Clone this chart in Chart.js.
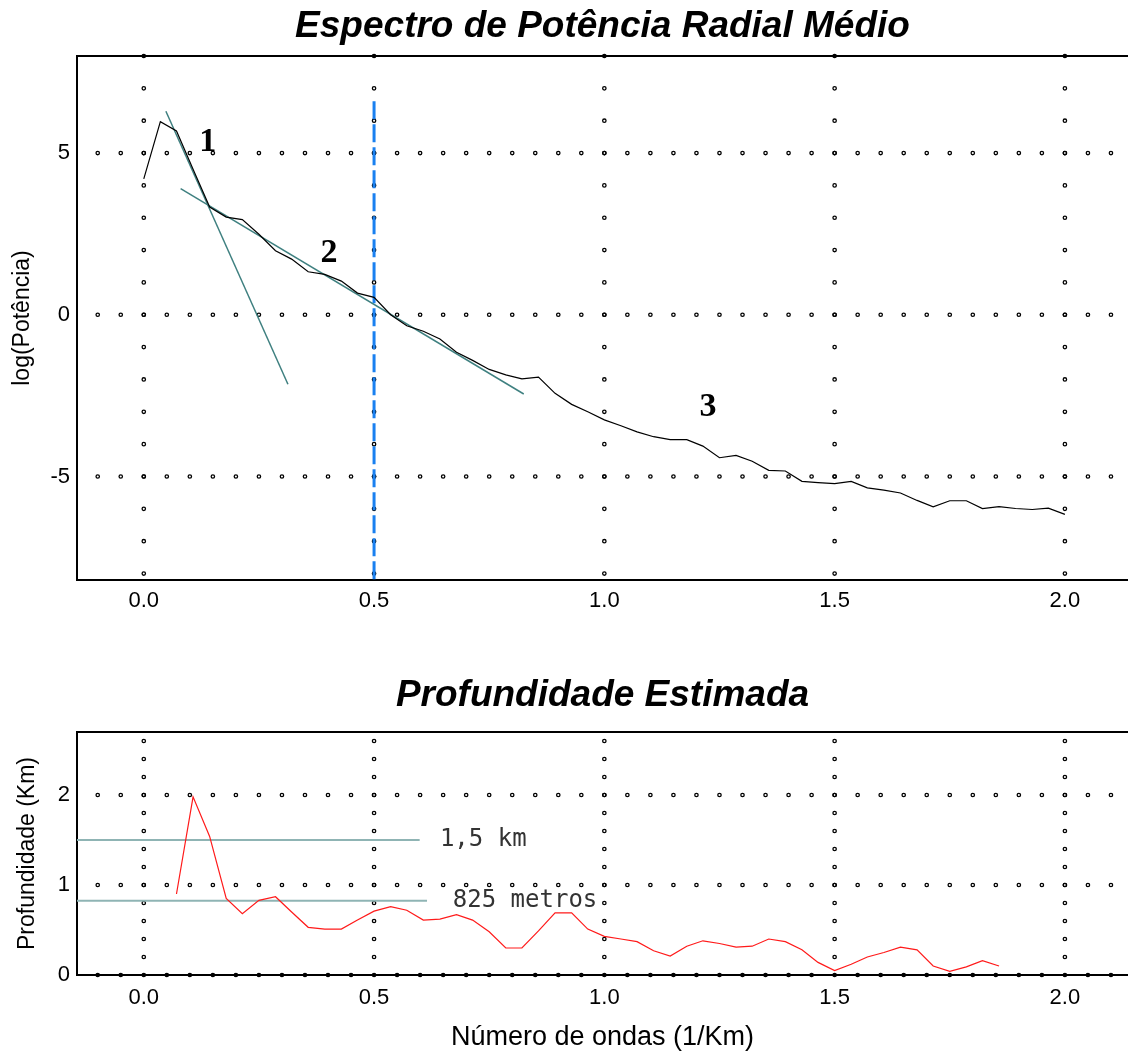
<!DOCTYPE html>
<html lang="pt">
<head>
<meta charset="utf-8">
<title>Espectro de Potência Radial Médio</title>
<script src="https://cdn.jsdelivr.net/npm/chart.js@4.4.1/dist/chart.umd.min.js"></script>
<style>
  html, body { margin: 0; padding: 0; background: #fff; }
  #top-wrap { position: absolute; left: 0; top: 0; width: 1128px; height: 650px; }
  #bottom-wrap { position: absolute; left: 0; top: 650px; width: 1128px; height: 404px; }
</style>
</head>
<body>
<div id="top-wrap"><canvas id="spectrumChart"></canvas></div>
<div id="bottom-wrap"><canvas id="depthChart"></canvas></div>
<script>
// número de ondas (1/Km)
const waveNumber = [
  0.000, 0.036, 0.071, 0.107, 0.143, 0.179, 0.214, 0.250, 0.286, 0.321,
  0.357, 0.393, 0.429, 0.464, 0.500, 0.536, 0.571, 0.607, 0.643, 0.679,
  0.714, 0.750, 0.786, 0.821, 0.857, 0.893, 0.929, 0.964, 1.000, 1.036,
  1.071, 1.107, 1.143, 1.179, 1.214, 1.250, 1.286, 1.321, 1.357, 1.393,
  1.429, 1.464, 1.500, 1.536, 1.571, 1.607, 1.643, 1.679, 1.714, 1.750,
  1.786, 1.821, 1.857, 1.893, 1.929, 1.964, 2.000
];

// log da potência média radial
const logPower = [
  4.20, 5.97, 5.68, 4.50, 3.33, 3.02, 2.94, 2.49, 1.98, 1.72,
  1.33, 1.25, 1.04, 0.67, 0.54, 0.00, -0.34, -0.51, -0.75, -1.16,
  -1.41, -1.69, -1.86, -1.98, -1.93, -2.43, -2.77, -3.00, -3.25, -3.43,
  -3.62, -3.77, -3.86, -3.86, -4.06, -4.42, -4.35, -4.53, -4.81, -4.83,
  -5.15, -5.19, -5.22, -5.15, -5.35, -5.42, -5.51, -5.74, -5.94, -5.75,
  -5.75, -5.99, -5.93, -5.99, -6.02, -5.98, -6.17
];

// profundidade estimada (Km), sem valor nas pontas
const depthKm = [
  null, null, 0.90, 1.98, 1.54, 0.85, 0.68, 0.83, 0.87, 0.70,
  0.53, 0.51, 0.51, 0.61, 0.71, 0.76, 0.72, 0.61, 0.62, 0.67,
  0.61, 0.48, 0.30, 0.30, 0.49, 0.69, 0.69, 0.51, 0.43, 0.40,
  0.37, 0.27, 0.21, 0.32, 0.38, 0.35, 0.31, 0.32, 0.40, 0.37,
  0.28, 0.14, 0.05, 0.12, 0.20, 0.25, 0.31, 0.28, 0.10, 0.04,
  0.09, 0.16, 0.10, null, null, null, null
];

// retas ajustadas aos segmentos 1 e 2
const fitOneX = [0.048, 0.313];
const fitOneY = [6.29, -2.15];
const fitTwoX = [0.080, 0.825];
const fitTwoY = [3.90, -2.45];

// corte em 0.5 (1/Km)
const cutoffX = [0.5, 0.5];
const cutoffY = [6.6, -8.2];

// níveis de profundidade
const levelDepth = [1.5, 0.825];
const levelEndX = [0.599, 0.615];
const levelNames = ['1,5 km', '825 metros'];

const segmentNames = ['1', '2', '3'];

const xTicks = [0, 0.5, 1, 1.5, 2];
const powerTicks = [-5, 0, 5];
const depthTicks = [0, 1, 2];

const X_MIN = -0.145, X_MAX = 2.137;

Chart.defaults.font.family = "'Liberation Sans', Arial, sans-serif";
Chart.defaults.color = '#000';

const toPoints = (xs, ys) => xs.map((x, i) => ({ x: x, y: ys[i] }));

// grade pontilhada e moldura superior
const dotGrid = {
  id: 'dotGrid',
  beforeDatasetsDraw(chart, args, opts) {
    const { ctx, chartArea: a, scales: { x, y } } = chart;
    ctx.save();
    ctx.strokeStyle = '#000';
    ctx.lineWidth = 1.3;
    const dot = (px, py) => {
      ctx.beginPath();
      ctx.arc(px, py, 1.7, 0, Math.PI * 2);
      ctx.stroke();
    };
    opts.rows.forEach(v => {
      const py = y.getPixelForValue(v);
      for (let k = -2; k <= 42; k++) dot(x.getPixelForValue(k * 0.05), py);
    });
    xTicks.forEach(v => {
      const px = x.getPixelForValue(v);
      for (let k = opts.colFrom; k <= opts.colTo; k++) dot(px, y.getPixelForValue(k * opts.colStep));
    });
    ctx.lineWidth = 2;
    ctx.beginPath();
    ctx.moveTo(a.left, a.top);
    ctx.lineTo(a.right, a.top);
    ctx.stroke();
    ctx.restore();
  }
};

// textos posicionados em coordenadas dos eixos
const markText = {
  id: 'markText',
  afterDatasetsDraw(chart, args, opts) {
    const { ctx, scales: { x, y } } = chart;
    ctx.save();
    opts.items.forEach(it => {
      ctx.font = it.font;
      ctx.fillStyle = it.color;
      ctx.textAlign = it.align;
      ctx.textBaseline = 'middle';
      ctx.fillText(it.text, x.getPixelForValue(it.x), y.getPixelForValue(it.y));
    });
    ctx.restore();
  }
};

function xAxis(height, pad, title) {
  return {
    type: 'linear',
    min: X_MIN,
    max: X_MAX,
    afterBuildTicks: s => { s.ticks = xTicks.map(v => ({ value: v })); },
    afterFit: s => { s.height = height; },
    grid: { display: false, drawTicks: false },
    border: { display: true, color: '#000', width: 2 },
    ticks: { font: { size: 22 }, padding: pad, maxRotation: 0, callback: v => v.toFixed(1) },
    title: title
  };
}

function yAxis(min, max, ticks, title, titlePad) {
  return {
    min: min,
    max: max,
    afterBuildTicks: s => { s.ticks = ticks.map(v => ({ value: v })); },
    afterFit: s => { s.width = 77; },
    grid: { display: false, drawTicks: false },
    border: { display: true, color: '#000', width: 2 },
    ticks: { font: { size: 22 }, padding: 7, callback: v => String(v) },
    title: { display: true, text: title, font: { size: 23 }, padding: { top: titlePad, bottom: 0 } }
  };
}

new Chart(document.getElementById('spectrumChart'), {
  type: 'line',
  data: {
    datasets: [
      { data: toPoints(waveNumber, logPower), borderColor: '#000', borderWidth: 1.2 },
      { data: toPoints(fitOneX, fitOneY), borderColor: '#3f8080', borderWidth: 1.5 },
      { data: toPoints(fitTwoX, fitTwoY), borderColor: '#3f8080', borderWidth: 1.5 },
      { data: toPoints(cutoffX, cutoffY), borderColor: '#1a80f0', borderWidth: 3, borderDash: [18, 5] }
    ]
  },
  options: {
    responsive: true,
    maintainAspectRatio: false,
    animation: false,
    elements: { point: { radius: 0 }, line: { tension: 0 } },
    layout: { padding: 0 },
    scales: {
      x: xAxis(70, 8, { display: false }),
      y: yAxis(-8.2, 8, powerTicks, 'log(Potência)', 9)
    },
    plugins: {
      legend: { display: false },
      tooltip: { enabled: false },
      title: {
        display: true,
        text: 'Espectro de Potência Radial Médio',
        fullSize: false,
        font: { size: 37, weight: 'bold', style: 'italic' },
        padding: { top: 5, bottom: 6.6 }
      },
      dotGrid: { rows: [5, 0, -5], colFrom: -8, colTo: 8, colStep: 1 },
      markText: {
        items: [
          { text: segmentNames[0], x: 0.139, y: 5.34 },
          { text: segmentNames[1], x: 0.402, y: 1.91 },
          { text: segmentNames[2], x: 1.225, y: -2.87 }
        ].map(it => Object.assign(it, { font: "bold 34px 'Liberation Serif', 'Times New Roman', serif", color: '#000', align: 'center' }))
      }
    }
  },
  plugins: [dotGrid, markText]
});

new Chart(document.getElementById('depthChart'), {
  type: 'line',
  data: {
    datasets: [
      { data: toPoints(waveNumber, depthKm), borderColor: '#ff1a1a', borderWidth: 1.2 },
      { data: toPoints([X_MIN, levelEndX[0]], [levelDepth[0], levelDepth[0]]), borderColor: '#8fb4b4', borderWidth: 2 },
      { data: toPoints([X_MIN, levelEndX[1]], [levelDepth[1], levelDepth[1]]), borderColor: '#8fb4b4', borderWidth: 2 }
    ]
  },
  options: {
    responsive: true,
    maintainAspectRatio: false,
    animation: false,
    elements: { point: { radius: 0 }, line: { tension: 0 } },
    layout: { padding: 0 },
    scales: {
      x: xAxis(79, 10, { display: true, text: 'Número de ondas (1/Km)', font: { size: 27 }, padding: { top: 0, bottom: 0 } }),
      y: yAxis(0, 2.7, depthTicks, 'Profundidade (Km)', 14)
    },
    plugins: {
      legend: { display: false },
      tooltip: { enabled: false },
      title: {
        display: true,
        text: 'Profundidade Estimada',
        fullSize: false,
        font: { size: 37, weight: 'bold', style: 'italic' },
        padding: { top: 23.6, bottom: 14 }
      },
      dotGrid: { rows: [2, 1, 0], colFrom: 1, colTo: 13, colStep: 0.2 },
      markText: {
        items: [
          { text: levelNames[0], x: 0.643, y: levelDepth[0] },
          { text: levelNames[1], x: 0.671, y: levelDepth[1] }
        ].map(it => Object.assign(it, { font: "24px 'DejaVu Sans Mono', monospace", color: '#333', align: 'left' }))
      }
    }
  },
  plugins: [dotGrid, markText]
});
</script>
</body>
</html>
